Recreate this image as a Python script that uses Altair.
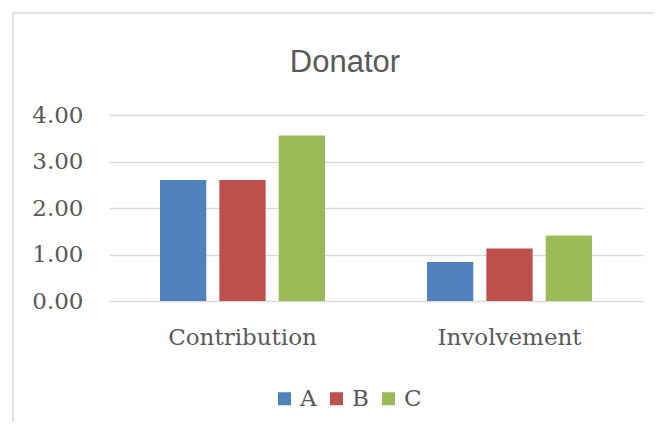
import altair as alt
import pandas as pd

categories = ["Contribution", "Involvement"]
series = ["A", "B", "C"]
values_A = [2.60, 0.84]
values_B = [2.60, 1.13]
values_C = [3.56, 1.41]
y_ticks = [0, 1, 2, 3, 4]
colors = ["#4f81bd", "#c0504d", "#9bbb59"]
title_text = "Donator"

rows = []
for s, vals in zip(series, [values_A, values_B, values_C]):
    for c, v in zip(categories, vals):
        rows.append({"category": c, "series": s, "value": v})
df = pd.DataFrame(rows)

serif = "DejaVu Serif"
gray = "#595959"

bars = alt.Chart(df).mark_bar().encode(
    x=alt.X("category:N", sort=categories,
            scale=alt.Scale(paddingInner=0.382, paddingOuter=0.191),
            axis=alt.Axis(title=None, labelAngle=0, domain=False, ticks=False,
                          labelPadding=25, labelFont=serif, labelFontSize=23,
                          labelColor=gray, grid=False)),
    xOffset=alt.XOffset("series:N", sort=series,
                        scale=alt.Scale(paddingInner=0.22, paddingOuter=0)),
    y=alt.Y("value:Q", scale=alt.Scale(domain=[0, 4], nice=False),
            axis=alt.Axis(title=None, values=y_ticks, format=".2f", domain=False,
                          ticks=False, labelPadding=26, labelFont=serif,
                          labelFontSize=23, labelColor=gray, grid=True,
                          gridColor="#d9d9d9", gridWidth=1.5)),
    color=alt.Color("series:N", sort=series,
                    scale=alt.Scale(domain=series, range=colors),
                    legend=alt.Legend(title=None, orient="none", direction="horizontal",
                                      legendX=164, legendY=272, symbolType="square",
                                      symbolSize=169, symbolStrokeWidth=0,
                                      labelFont=serif, labelFontSize=23,
                                      labelColor=gray, labelOffset=4,
                                      columnPadding=8, padding=0)),
)

frame = alt.Chart(alt.Data(values=[{}])).mark_rect(
    fill="transparent", stroke="#d9d9d9", strokeWidth=1.5
).encode(
    x=alt.value(-96), y=alt.value(-102), x2=alt.value(700), y2=alt.value(500)
)

title = alt.Chart(alt.Data(values=[{"t": title_text}])).mark_text(
    font="Liberation Sans", fontSize=31, color=gray,
    align="center", baseline="alphabetic"
).encode(
    text="t:N", x=alt.value(236), y=alt.value(-43)
)

chart = alt.layer(frame, bars, title).properties(
    width=534, height=186,
    autosize=alt.AutoSizeParams(type="none"),
    padding={"left": 101, "top": 107, "right": 11, "bottom": 121},
).configure_view(stroke=None)

chart.save("out.html", embed_options={"renderer": "svg", "actions": False})
